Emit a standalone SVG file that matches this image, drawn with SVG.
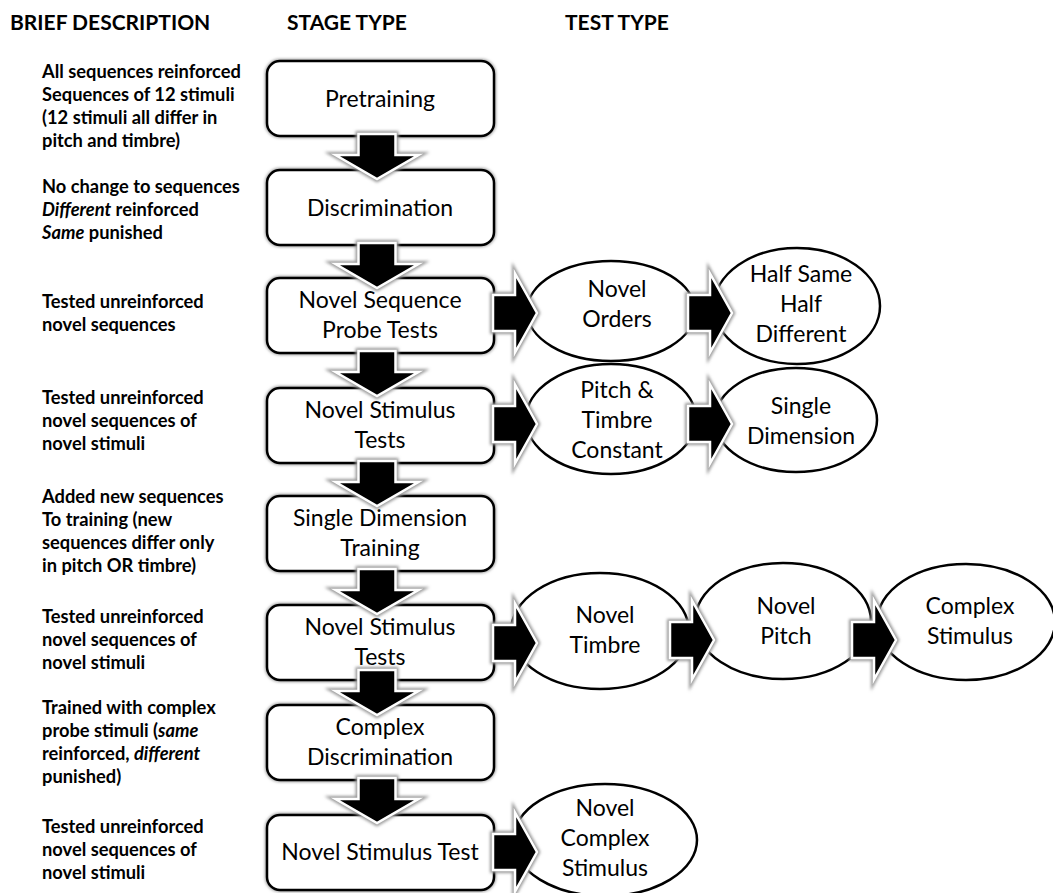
<svg xmlns="http://www.w3.org/2000/svg" xmlns:xlink="http://www.w3.org/1999/xlink" width="1053" height="893" viewBox="0 0 1053 893">
<style>
.hdr{font-family:"Lato","Open Sans",sans-serif;font-weight:bold;font-size:21px;fill:#000}
.desc{font-family:"Lato","Open Sans",sans-serif;font-weight:bold;font-size:18.3px;fill:#000}
.lbl{font-family:"Lato","Open Sans",sans-serif;font-size:23px;fill:#000;text-anchor:middle}
.box{fill:#fff;stroke:#000;stroke-width:2.5}
.boxsh{fill:none;stroke:#999;stroke-width:4;filter:url(#blur)}
.ell{fill:#fff;stroke:#000;stroke-width:2.5}
.ash{fill:#777;stroke:#999;stroke-width:6;filter:url(#blur)}
.afg{fill:#000;stroke:#fff;stroke-width:2.5;stroke-linejoin:miter}
</style>
<defs>
<filter id="blur" x="-30%" y="-30%" width="160%" height="160%"><feGaussianBlur stdDeviation="1.6"/></filter>
<path id="da" d="M-18.5,0 H18.5 V21 H41.5 L0,45 L-41.5,21 H-18.5 Z"/>
<path id="ra" d="M0,-18 H22 V-39.5 L44,0 L22,39.5 V18 H0 Z"/>
</defs>
<rect width="1053" height="893" fill="#fff"/>

<g id="headers">
<text class="hdr" x="10" y="30">BRIEF DESCRIPTION</text>
<text class="hdr" x="287" y="30">STAGE TYPE</text>
<text class="hdr" x="565" y="30">TEST TYPE</text>
</g>

<g id="descriptions">
<text class="desc" x="42" y="78">All sequences reinforced</text>
<text class="desc" x="42" y="101">Sequences of 12 stimuli</text>
<text class="desc" x="42" y="124">(12 stimuli all differ in</text>
<text class="desc" x="42" y="147">pitch and timbre)</text>
<text class="desc" x="42" y="193">No change to sequences</text>
<text class="desc" x="42" y="216"><tspan font-style="italic">Different</tspan> reinforced</text>
<text class="desc" x="42" y="239"><tspan font-style="italic">Same</tspan> punished</text>
<text class="desc" x="42" y="308">Tested unreinforced</text>
<text class="desc" x="42" y="331">novel sequences</text>
<text class="desc" x="42" y="404">Tested unreinforced</text>
<text class="desc" x="42" y="427">novel sequences of</text>
<text class="desc" x="42" y="450">novel stimuli</text>
<text class="desc" x="42" y="503">Added new sequences</text>
<text class="desc" x="42" y="526">To training (new</text>
<text class="desc" x="42" y="549">sequences differ only</text>
<text class="desc" x="42" y="572">in pitch OR timbre)</text>
<text class="desc" x="42" y="623">Tested unreinforced</text>
<text class="desc" x="42" y="646">novel sequences of</text>
<text class="desc" x="42" y="669">novel stimuli</text>
<text class="desc" x="42" y="714">Trained with complex</text>
<text class="desc" x="42" y="737">probe stimuli (<tspan font-style="italic">same</tspan></text>
<text class="desc" x="42" y="760">reinforced, <tspan font-style="italic">different</tspan></text>
<text class="desc" x="42" y="783">punished)</text>
<text class="desc" x="42" y="833">Tested unreinforced</text>
<text class="desc" x="42" y="856">novel sequences of</text>
<text class="desc" x="42" y="879">novel stimuli</text>
</g>

<g id="stage-pretraining">
<rect class="boxsh" x="267" y="61" width="227" height="75" rx="13"/>
<rect class="box" x="267" y="61" width="227" height="75" rx="13"/>
<text class="lbl" x="380" y="107">Pretraining</text>
</g>
<g id="stage-discrimination">
<rect class="boxsh" x="267" y="170" width="227" height="75" rx="13"/>
<rect class="box" x="267" y="170" width="227" height="75" rx="13"/>
<text class="lbl" x="380" y="216">Discrimination</text>
</g>
<g id="stage-novel-sequence">
<rect class="boxsh" x="267" y="278" width="227" height="75" rx="13"/>
<rect class="box" x="267" y="278" width="227" height="75" rx="13"/>
<text class="lbl" x="380" y="308">Novel Sequence</text>
<text class="lbl" x="380" y="338">Probe Tests</text>
</g>
<g id="stage-novel-stimulus-1">
<rect class="boxsh" x="267" y="388" width="227" height="75" rx="13"/>
<rect class="box" x="267" y="388" width="227" height="75" rx="13"/>
<text class="lbl" x="380" y="418">Novel Stimulus</text>
<text class="lbl" x="380" y="448">Tests</text>
</g>
<g id="stage-single-dimension">
<rect class="boxsh" x="267" y="496" width="227" height="75" rx="13"/>
<rect class="box" x="267" y="496" width="227" height="75" rx="13"/>
<text class="lbl" x="380" y="526">Single Dimension</text>
<text class="lbl" x="380" y="556">Training</text>
</g>
<g id="stage-novel-stimulus-2">
<rect class="boxsh" x="267" y="605" width="227" height="75" rx="13"/>
<rect class="box" x="267" y="605" width="227" height="75" rx="13"/>
<text class="lbl" x="380" y="635">Novel Stimulus</text>
<text class="lbl" x="380" y="665">Tests</text>
</g>
<g id="stage-complex-discrimination">
<rect class="boxsh" x="267" y="705" width="227" height="75" rx="13"/>
<rect class="box" x="267" y="705" width="227" height="75" rx="13"/>
<text class="lbl" x="380" y="735">Complex</text>
<text class="lbl" x="380" y="765">Discrimination</text>
</g>
<g id="stage-novel-stimulus-test">
<rect class="boxsh" x="267" y="815" width="227" height="75" rx="13"/>
<rect class="box" x="267" y="815" width="227" height="75" rx="13"/>
<text class="lbl" x="380" y="860">Novel Stimulus Test</text>
</g>

<g id="test-novel-orders">
<ellipse class="ell" cx="611" cy="311" rx="84" ry="50"/>
<text class="lbl" x="617" y="297">Novel</text>
<text class="lbl" x="617" y="327">Orders</text>
</g>
<g id="test-half-same">
<ellipse class="ell" cx="797" cy="306" rx="83" ry="58"/>
<text class="lbl" x="801" y="282">Half Same</text>
<text class="lbl" x="801" y="312">Half</text>
<text class="lbl" x="801" y="342">Different</text>
</g>
<g id="test-pitch-timbre">
<ellipse class="ell" cx="611" cy="419" rx="85" ry="55"/>
<text class="lbl" x="617" y="398">Pitch &amp;</text>
<text class="lbl" x="617" y="428">Timbre</text>
<text class="lbl" x="617" y="458">Constant</text>
</g>
<g id="test-single-dimension">
<ellipse class="ell" cx="796" cy="420" rx="81" ry="52"/>
<text class="lbl" x="801" y="414">Single</text>
<text class="lbl" x="801" y="444">Dimension</text>
</g>
<g id="test-novel-timbre">
<ellipse class="ell" cx="600" cy="631" rx="89" ry="58"/>
<text class="lbl" x="605" y="623">Novel</text>
<text class="lbl" x="605" y="653">Timbre</text>
</g>
<g id="test-novel-pitch">
<ellipse class="ell" cx="783" cy="621" rx="88" ry="58"/>
<text class="lbl" x="786" y="614">Novel</text>
<text class="lbl" x="786" y="644">Pitch</text>
</g>
<g id="test-complex-stimulus">
<ellipse class="ell" cx="966" cy="622" rx="89" ry="58"/>
<text class="lbl" x="970" y="614">Complex</text>
<text class="lbl" x="970" y="644">Stimulus</text>
</g>
<g id="test-novel-complex">
<ellipse class="ell" cx="605" cy="840" rx="92" ry="56"/>
<text class="lbl" x="605" y="816">Novel</text>
<text class="lbl" x="605" y="846">Complex</text>
<text class="lbl" x="605" y="876">Stimulus</text>
</g>

<g id="connectors">
<g transform="translate(377,134)"><use xlink:href="#da" class="ash"/><use xlink:href="#da" class="afg"/></g>
<g transform="translate(377,243)"><use xlink:href="#da" class="ash"/><use xlink:href="#da" class="afg"/></g>
<g transform="translate(377,351)"><use xlink:href="#da" class="ash"/><use xlink:href="#da" class="afg"/></g>
<g transform="translate(377,461)"><use xlink:href="#da" class="ash"/><use xlink:href="#da" class="afg"/></g>
<g transform="translate(377,569)"><use xlink:href="#da" class="ash"/><use xlink:href="#da" class="afg"/></g>
<g transform="translate(377,670)"><use xlink:href="#da" class="ash"/><use xlink:href="#da" class="afg"/></g>
<g transform="translate(377,778)"><use xlink:href="#da" class="ash"/><use xlink:href="#da" class="afg"/></g>

<g transform="translate(493,313)"><use xlink:href="#ra" class="ash"/><use xlink:href="#ra" class="afg"/></g>
<g transform="translate(688,313)"><use xlink:href="#ra" class="ash"/><use xlink:href="#ra" class="afg"/></g>
<g transform="translate(493,424)"><use xlink:href="#ra" class="ash"/><use xlink:href="#ra" class="afg"/></g>
<g transform="translate(688,424)"><use xlink:href="#ra" class="ash"/><use xlink:href="#ra" class="afg"/></g>
<g transform="translate(493,643)"><use xlink:href="#ra" class="ash"/><use xlink:href="#ra" class="afg"/></g>
<g transform="translate(670,640)"><use xlink:href="#ra" class="ash"/><use xlink:href="#ra" class="afg"/></g>
<g transform="translate(852,640)"><use xlink:href="#ra" class="ash"/><use xlink:href="#ra" class="afg"/></g>
<g transform="translate(493,852)"><use xlink:href="#ra" class="ash"/><use xlink:href="#ra" class="afg"/></g>
</g>
</svg>
